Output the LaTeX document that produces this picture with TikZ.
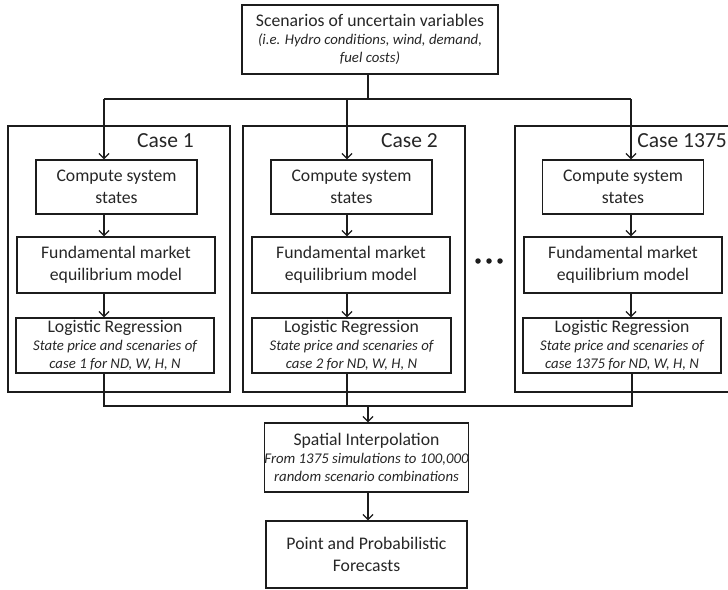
\documentclass[tikz,border=0pt]{standalone}
\usepackage{fontspec}
\setmainfont{Carlito}
\usetikzlibrary{arrows.meta}
\definecolor{lc}{RGB}{28,28,28}
\definecolor{tc}{RGB}{38,38,38}
\newcommand{\bigf}{\fontsize{17.7}{21.5}\selectfont}
\newcommand{\mixf}{\fontsize{17.7}{18.2}\selectfont}
\newcommand{\itf}{\fontsize{14.8}{18}\selectfont\itshape}
\newcommand{\casef}{\fontsize{21.5}{24}\selectfont}
\begin{document}
\begin{tikzpicture}[x=1pt,y=-1pt,
  box/.style={draw=lc, line width=1.3pt, inner sep=0pt, align=center, text=tc, font=\bigf},
  mixbox/.style={box, font=\mixf},
  outerbox/.style={draw=lc, line width=1.8pt, inner sep=0pt},
  casetxt/.style={anchor=base east, inner sep=0pt, text=tc, font=\casef},
  ln/.style={draw=lc, line width=1.3pt},
  arr/.style={ln, -{Straight Barb[length=5pt,width=10pt,line width=1.3pt]}},
  dot/.style={fill=lc, circle, inner sep=0pt, minimum size=5.5pt}]
\clip (0,0) rectangle (728,589);
% top box
\node[mixbox, minimum width=256pt, minimum height=69pt] (top) at (370,39.5)
  {Scenarios of uncertain variables\\{\itf (i.e. Hydro conditions, wind, demand,}\\{\itf fuel costs)}};
% outer case boxes
\node[outerbox, minimum width=222pt, minimum height=266pt] (o1) at (119,259) {};
\node[outerbox, minimum width=222pt, minimum height=266pt] (o2) at (354,259) {};
\node[outerbox, minimum width=222pt, minimum height=266pt] (o3) at (626,259) {};
\node[casetxt] (k1) at (194,147) {Case 1};
\node[casetxt] (k2) at (438,147) {Case 2};
\node[casetxt] (k3) at (727,147) {Case 1375};
% compute boxes
\node[box, minimum width=161pt, minimum height=54pt] (c1) at (116.5,187) {Compute system\\states};
\node[box, minimum width=161pt, minimum height=54pt] (c2) at (351.5,187) {Compute system\\states};
\node[box, minimum width=161pt, minimum height=54pt] (c3) at (623,187) {Compute system\\states};
% fundamental boxes
\node[box, minimum width=198pt, minimum height=56pt] (f1) at (116,265) {Fundamental market\\equilibrium model};
\node[box, minimum width=198pt, minimum height=56pt] (f2) at (351,265) {Fundamental market\\equilibrium model};
\node[box, minimum width=198pt, minimum height=56pt] (f3) at (623,265) {Fundamental market\\equilibrium model};
% logistic boxes
\node[mixbox, minimum width=198pt, minimum height=55pt] (l1) at (115,345.5)
  {Logistic Regression\\{\itf State price and scenaries of}\\{\itf case 1 for ND, W, H, N}};
\node[mixbox, minimum width=199pt, minimum height=55pt] (l2) at (351.5,345.5)
  {Logistic Regression\\{\itf State price and scenaries of}\\{\itf case 2 for ND, W, H, N}};
\node[mixbox, minimum width=198pt, minimum height=55pt] (l3) at (622,345.5)
  {Logistic Regression\\{\itf State price and scenaries of}\\{\itf case 1375 for ND, W, H, N}};
% dots
\node[dot] (d1) at (478,261) {};
\node[dot] (d2) at (489,261) {};
\node[dot] (d3) at (500,261) {};
% bottom boxes
\node[mixbox, minimum width=201pt, minimum height=69pt] (sp) at (366.5,457.5)
  {Spatial Interpolation\\{\itf From 1375 simulations to 100,000}\\{\itf random scenario combinations}};
\node[box, minimum width=201pt, minimum height=67pt] (fc) at (366.5,554.5)
  {Point and Probabilistic\\Forecasts};
% connectors top
\coordinate (j0) at (368,99);
\coordinate (j1) at (104,99);
\coordinate (j2) at (347,99);
\coordinate (j3) at (631,99);
\draw[ln] (top.south -| j0) -- (j0);
\draw[ln] (j1) -- (j3);
\draw[arr] (j1) -- (c1.north -| j1);
\draw[arr] (j2) -- (c2.north -| j2);
\draw[arr] (j3) -- (c3.north -| j3);
\draw[arr] (c1.south -| j1) -- (f1.north -| j1);
\draw[arr] (c2.south -| j2) -- (f2.north -| j2);
\draw[arr] (c3.south -| j3) -- (f3.north -| j3);
\draw[arr] (f1.south -| j1) -- (l1.north -| j1);
\draw[arr] (f2.south -| j2) -- (l2.north -| j2);
\draw[arr] (f3.south -| j3) -- (l3.north -| j3);
% connectors bottom
\coordinate (b1) at (104,406);
\coordinate (b2) at (347,406);
\coordinate (b3) at (632,406);
\coordinate (bm) at (368,406);
\draw[ln] (l1.south -| b1) -- (b1) -- (b3) -- (l3.south -| b3);
\draw[ln] (l2.south -| b2) -- (b2);
\draw[arr] (bm) -- (sp.north -| bm);
\draw[arr] (sp.south -| bm) -- (fc.north -| bm);
\end{tikzpicture}
\end{document}
